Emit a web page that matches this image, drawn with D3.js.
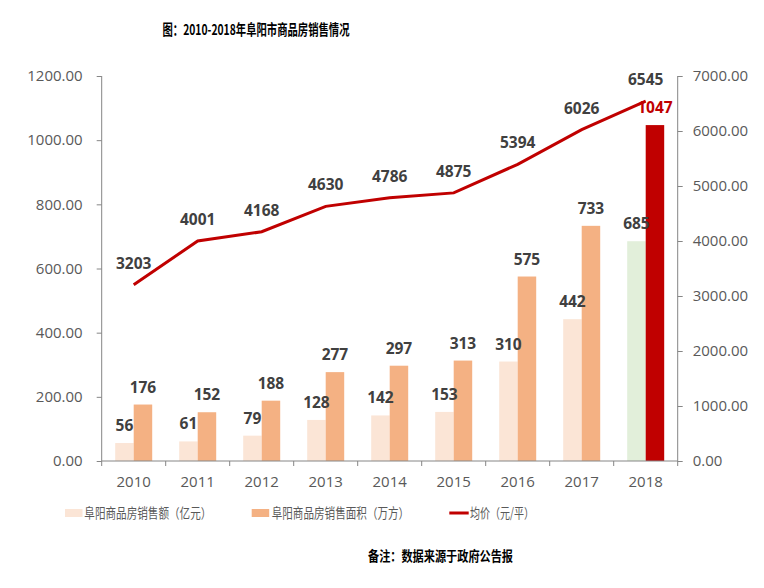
<!DOCTYPE html>
<html><head><meta charset="utf-8">
<script src="https://cdn.jsdelivr.net/npm/d3@7"></script>
<style>
body{margin:0;background:#fff;}
svg{display:block;}
</style></head>
<body>
<svg id="c" width="764" height="588"></svg>
<script>
const years = ["2010","2011","2012","2013","2014","2015","2016","2017","2018"];
const salesAmount = [56, 61, 79, 128, 142, 153, 310, 442, 685];
const salesArea = [176, 152, 188, 277, 297, 313, 575, 733, 1047];
const avgPrice = [3203, 4001, 4168, 4630, 4786, 4875, 5394, 6026, 6545];
const leftTicks = [0, 200, 400, 600, 800, 1000, 1200];
const rightTicks = [0, 1000, 2000, 3000, 4000, 5000, 6000, 7000];
const seriesNames = ["阜阳商品房销售额（亿元）", "阜阳商品房销售面积（万方）", "均价（元/平）"];
const titleText = "图：2010-2018年阜阳市商品房销售情况";
const noteText = "备注：数据来源于政府公告报";

const svg = d3.select("#c");
const L = 101.7, R = 677.7, Y0 = 461, YT = 76;
const x = d3.scaleBand().domain(years).range([L, R]).padding(0);
const yL = d3.scaleLinear().domain([0, 1200]).range([Y0, YT]);
const yR = d3.scaleLinear().domain([0, 7000]).range([Y0, YT]);
const bw = 18.5;
const axisColor = "#868686", tickText = "#595959", labelColor = "#404040";
const numFont = "'Open Sans', 'Noto Sans', sans-serif";
const cjkFont = "'Noto Sans CJK SC', sans-serif";

const amtColor = i => i === years.length - 1 ? "#E2EFDA" : "#FBE5D6";
const areaColor = i => i === years.length - 1 ? "#C00000" : "#F4B183";

// title
svg.append("text").attr("x", 256).attr("y", 35).attr("text-anchor", "middle")
  .attr("font-family", cjkFont).attr("font-weight", "bold").attr("font-size", 14.5)
  .attr("textLength", 187).attr("lengthAdjust", "spacingAndGlyphs")
  .attr("fill", "#000").text(titleText);

// bars
const g = svg.append("g");
g.selectAll("rect.amt").data(salesAmount).enter().append("rect")
  .attr("x", (d, i) => x(years[i]) + x.bandwidth() / 2 - bw)
  .attr("y", d => yL(d)).attr("width", bw).attr("height", d => Y0 - yL(d))
  .attr("fill", (d, i) => amtColor(i));
g.selectAll("rect.area").data(salesArea).enter().append("rect")
  .attr("x", (d, i) => x(years[i]) + x.bandwidth() / 2)
  .attr("y", d => yL(d)).attr("width", bw).attr("height", d => Y0 - yL(d))
  .attr("fill", (d, i) => areaColor(i));

// axes
const axL = d3.axisLeft(yL).tickValues(leftTicks).tickFormat(d3.format(".2f")).tickSize(5).tickPadding(14);
const axR = d3.axisRight(yR).tickValues(rightTicks).tickFormat(d3.format(".2f")).tickSize(5).tickPadding(10);
const gL = svg.append("g").attr("transform", `translate(${L},0)`).call(axL);
const gR = svg.append("g").attr("transform", `translate(${R},0)`).call(axR);
const gX = svg.append("g").attr("transform", `translate(0,${Y0})`);
gX.append("line").attr("x1", L).attr("x2", R).attr("y1", 0).attr("y2", 0).attr("stroke", axisColor);
const bounds = years.map(d => x(d)).concat([R]);
gX.selectAll("line.t").data(bounds).enter().append("line")
  .attr("x1", d => d).attr("x2", d => d).attr("y1", 0).attr("y2", 5).attr("stroke", axisColor);
gX.selectAll("text").data(years).enter().append("text")
  .attr("x", d => x(d) + x.bandwidth() / 2).attr("y", 26.3).attr("text-anchor", "middle")
  .attr("font-family", numFont).attr("font-size", 15).attr("fill", tickText).text(d => d);
[gL, gR].forEach(a => {
  a.select(".domain").attr("stroke", axisColor).attr("d", `M0,${Y0}V${YT}`);
  a.selectAll(".tick line").attr("stroke", axisColor);
  a.selectAll(".tick text").attr("font-family", numFont).attr("font-size", 15).attr("fill", tickText);
});

// line
const line = d3.line().x((d, i) => x(years[i]) + x.bandwidth() / 2).y(d => yR(d));
svg.append("path").datum(avgPrice).attr("d", line).attr("fill", "none")
  .attr("stroke", "#C00000").attr("stroke-width", 3);

// labels
const lab = svg.append("g").attr("font-family", numFont).attr("font-weight", "bold")
  .attr("font-size", 15.5).attr("text-anchor", "middle");
lab.selectAll("text.a").data(salesAmount).enter().append("text")
  .attr("x", (d, i) => x(years[i]) + x.bandwidth() / 2 - bw / 2)
  .attr("y", d => yL(d) - 12).attr("fill", labelColor).text(d => d);
lab.selectAll("text.b").data(salesArea).enter().append("text")
  .attr("x", (d, i) => x(years[i]) + x.bandwidth() / 2 + bw / 2)
  .attr("y", d => yL(d) - 12).attr("fill", (d, i) => i === years.length - 1 ? "#C00000" : labelColor).text(d => d);
lab.selectAll("text.p").data(avgPrice).enter().append("text")
  .attr("x", (d, i) => x(years[i]) + x.bandwidth() / 2)
  .attr("y", d => yR(d) - 16).attr("fill", labelColor).text(d => d);

// legend
const lg = svg.append("g").attr("font-family", cjkFont).attr("font-size", 13.5).attr("fill", tickText)
  .attr("lengthAdjust", "spacingAndGlyphs");
lg.append("rect").attr("x", 65).attr("y", 509).attr("width", 17.5).attr("height", 8).attr("fill", "#FBE5D6");
lg.append("text").attr("x", 84.3).attr("y", 518).attr("textLength", 127).attr("lengthAdjust", "spacingAndGlyphs").text(seriesNames[0]);
lg.append("rect").attr("x", 251.7).attr("y", 509).attr("width", 17.5).attr("height", 8).attr("fill", "#F4B183");
lg.append("text").attr("x", 271.7).attr("y", 518).attr("textLength", 137.5).attr("lengthAdjust", "spacingAndGlyphs").text(seriesNames[1]);
lg.append("line").attr("x1", 449.3).attr("x2", 468.7).attr("y1", 513).attr("y2", 513).attr("stroke", "#C00000").attr("stroke-width", 3);
lg.append("text").attr("x", 470).attr("y", 518).attr("textLength", 64).attr("lengthAdjust", "spacingAndGlyphs").text(seriesNames[2]);

// note
svg.append("text").attr("x", 368).attr("y", 561).attr("font-family", cjkFont)
  .attr("font-weight", "bold").attr("font-size", 13.5).attr("textLength", 145)
  .attr("lengthAdjust", "spacingAndGlyphs").attr("fill", "#000").text(noteText);
</script>
</body></html>
